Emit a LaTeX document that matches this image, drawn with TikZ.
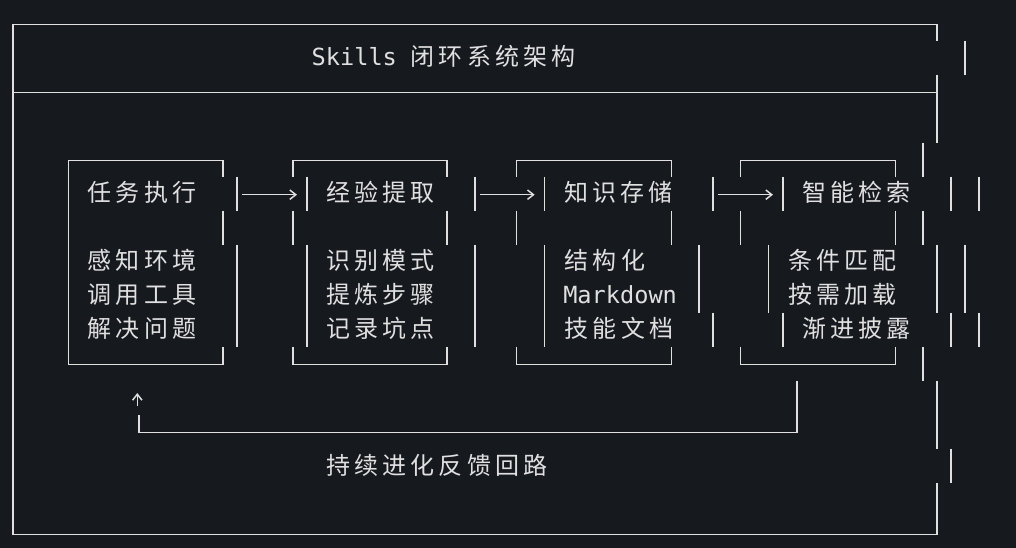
\documentclass[tikz,border=0pt]{standalone}
\usepackage{fontspec}
\newfontfamily\cjkf{Noto Sans CJK SC}
\newfontfamily\monof{DejaVu Sans Mono}
\usetikzlibrary{arrows.meta}
\definecolor{bgc}{HTML}{161A1F}
\definecolor{fgc}{HTML}{E0E0E0}
\def\cjkend{CJKEND}
\def\cjkloop#1{\ifx#1\cjkend\else\makebox[21.15pt]{#1}\expandafter\cjkloop\fi}
\newcommand\cj[1]{{\cjkf\fontsize{18pt}{20pt}\selectfont\cjkloop#1\cjkend}}
\newcommand\mo[1]{{\monof\fontsize{17.7pt}{20pt}\selectfont #1}}
\tikzset{
  ln/.style={draw=fgc, line width=1.15pt},
  txt/.style={anchor=base west, inner sep=0pt, text=fgc},
  arr/.style={draw=fgc, line width=1.1pt, -{Straight Barb[length=4.5pt,width=7pt]}}
}
\begin{document}
\begin{tikzpicture}[x=0.75pt,y=-0.75pt]
\fill[bgc] (0,0) rectangle (1016,548);
\useasboundingbox (0,0) rectangle (1016,548);
% outer frame
\draw[ln] (937,40.7) -- (937,24.7) -- (13,24.7) -- (13,534.7) -- (937,534.7) -- (937,482.7);
\draw[ln] (965,40.7) -- (965,74.7);
\draw[ln] (13,92.7) -- (937,92.7);
\draw[ln] (937,74.7) -- (937,142.7);
\draw[ln] (923,142.7) -- (923,176.7);
\draw[ln] (979,176.7) -- (979,210.7);
\draw[ln] (923,210.7) -- (923,244.7);
\draw[ln] (965,244.7) -- (965,312.7);
\draw[ln] (979,312.7) -- (979,346.7);
\draw[ln] (923,346.7) -- (923,380.7);
\draw[ln] (937,380.7) -- (937,448.7);
\draw[ln] (951,448.7) -- (951,482.7);
% title
\node[txt] (title) at (311.4,66) {\mo{Skills}\hspace{8.8pt}\cj{闭环系统架构}};
% box 1
\draw[ln] (223,176.7) -- (223,160.7) -- (68.7,160.7) -- (68.7,364.7) -- (223,364.7) -- (223,346.7);
\draw[ln] (237,176.7) -- (237,210.7);
\draw[ln] (223,210.7) -- (223,244.7);
\draw[ln] (237,244.7) -- (237,346.7);
% box 2
\draw[ln] (293,176.7) -- (293,160.7) -- (447,160.7) -- (447,176.7);
\draw[ln] (293,346.7) -- (293,364.7) -- (447,364.7) -- (447,346.7);
\draw[ln] (307,176.7) -- (307,210.7);
\draw[ln] (475,176.7) -- (475,210.7);
\draw[ln] (293,210.7) -- (293,244.7);
\draw[ln] (447,210.7) -- (447,244.7);
\draw[ln] (307,244.7) -- (307,346.7);
\draw[ln] (475,244.7) -- (475,346.7);
% box 3
\draw[ln] (516.7,176.7) -- (516.7,160.7) -- (671.3,160.7) -- (671.3,176.7);
\draw[ln] (516.7,346.7) -- (516.7,364.7) -- (671.3,364.7) -- (671.3,346.7);
\draw[ln] (544.7,176.7) -- (544.7,210.7);
\draw[ln] (713,176.7) -- (713,210.7);
\draw[ln] (516.7,210.7) -- (516.7,244.7);
\draw[ln] (671.3,210.7) -- (671.3,244.7);
\draw[ln] (544.7,244.7) -- (544.7,346.7);
\draw[ln] (699,244.7) -- (699,312.7);
\draw[ln] (713,312.7) -- (713,346.7);
% box 4
\draw[ln] (740.7,176.7) -- (740.7,160.7) -- (895.3,160.7) -- (895.3,176.7);
\draw[ln] (740.7,346.7) -- (740.7,364.7) -- (895.3,364.7) -- (895.3,346.7);
\draw[ln] (783,176.7) -- (783,210.7);
\draw[ln] (951,176.7) -- (951,210.7);
\draw[ln] (740.7,210.7) -- (740.7,244.7);
\draw[ln] (895.3,210.7) -- (895.3,244.7);
\draw[ln] (768.7,244.7) -- (768.7,312.7);
\draw[ln] (937,244.7) -- (937,312.7);
\draw[ln] (783,312.7) -- (783,346.7);
\draw[ln] (951,312.7) -- (951,346.7);
% texts
\node[txt] (t1) at (85.3,202) {\cj{任务执行}};
\node[txt] (t2) at (323.7,202) {\cj{经验提取}};
\node[txt] (t3) at (561.7,202) {\cj{知识存储}};
\node[txt] (t4) at (800,202) {\cj{智能检索}};
\node[txt] (t1a) at (85.3,270) {\cj{感知环境}};
\node[txt] (t1b) at (85.3,304) {\cj{调用工具}};
\node[txt] (t1c) at (85.3,338) {\cj{解决问题}};
\node[txt] (t2a) at (324,270) {\cj{识别模式}};
\node[txt] (t2b) at (324,304) {\cj{提炼步骤}};
\node[txt] (t2c) at (324,338) {\cj{记录坑点}};
\node[txt] (t3a) at (562.3,270) {\cj{结构化}};
\node[txt] (t3b) at (563,304) {\mo{Markdown}};
\node[txt] (t3c) at (562.3,338) {\cj{技能文档}};
\node[txt] (t4a) at (786,270) {\cj{条件匹配}};
\node[txt] (t4b) at (786,304) {\cj{按需加载}};
\node[txt] (t4c) at (800,338) {\cj{渐进披露}};
\node[txt] (fb) at (323.7,474) {\cj{持续进化反馈回路}};
% arrows
\coordinate (a1s) at (242,194.7); \coordinate (a1e) at (297,194.7);
\coordinate (a2s) at (480,194.7); \coordinate (a2e) at (534.7,194.7);
\coordinate (a3s) at (718,194.7); \coordinate (a3e) at (773,194.7);
\draw[arr] (a1s) -- (a1e);
\draw[arr] (a2s) -- (a2e);
\draw[arr] (a3s) -- (a3e);
% feedback loop
\coordinate (fbs) at (797,380.7);
\coordinate (fbc1) at (797,432.7);
\coordinate (fbc2) at (139,432.7);
\coordinate (fbe) at (139,414.7);
\draw[ln] (fbs) -- (fbc1) -- (fbc2) -- (fbe);
\coordinate (ups) at (137.3,406); \coordinate (upe) at (137.3,393);
\draw[arr] (ups) -- (upe);
\end{tikzpicture}
\end{document}
